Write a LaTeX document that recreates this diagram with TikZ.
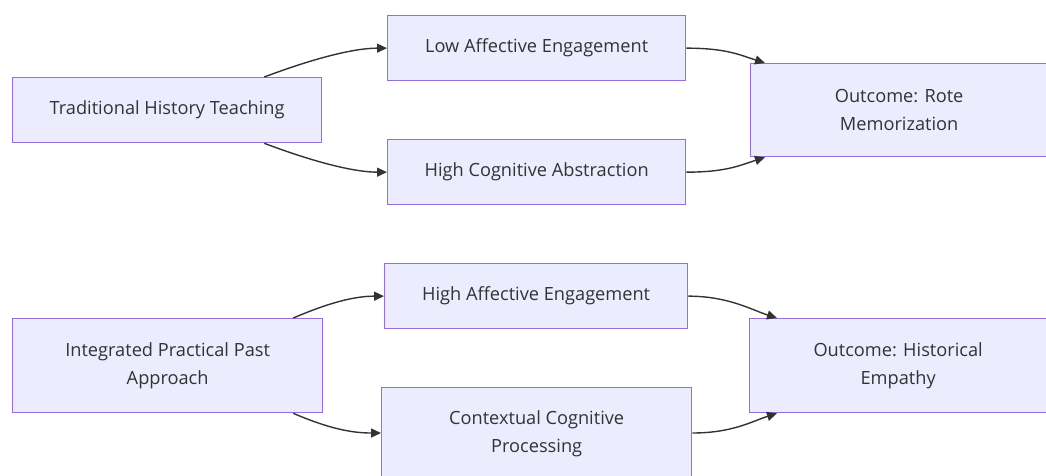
\documentclass[tikz,border=0pt]{standalone}
\usepackage{fontspec}
\setmainfont{Open Sans}
\usetikzlibrary{arrows.meta}
\definecolor{boxfill}{HTML}{ECECFF}
\definecolor{boxline}{HTML}{9370DB}
\definecolor{txt}{HTML}{333333}
\begin{document}
\begin{tikzpicture}[x=1pt,y=-1pt,
  box/.style={draw=boxline,fill=boxfill,line width=1.3pt,text=txt,align=center,
    font=\fontsize{18.2}{28}\selectfont,inner sep=0pt,anchor=north west},
  arr/.style={draw=txt,line width=1.4pt,-{Triangle[length=10pt,width=9pt]}}]
\useasboundingbox (0,0) rectangle (1046,475);
\node[box,minimum width=309pt,minimum height=65pt] (trad) at (12,77) {Traditional History Teaching};
\node[box,minimum width=298pt,minimum height=65pt] (low) at (387,15) {Low Affective Engagement};
\node[box,minimum width=298pt,minimum height=65pt] (hca) at (387,139) {High Cognitive Abstraction};
\node[box,minimum width=297pt,minimum height=93pt] (rote) at (750,63) {Outcome: Rote\\Memorization};
\node[box,minimum width=310pt,minimum height=94pt] (ipp) at (12,318) {Integrated Practical Past\\Approach};
\node[box,minimum width=303pt,minimum height=65pt] (hae) at (384,263) {High Affective Engagement};
\node[box,minimum width=310pt,minimum height=92pt] (ccp) at (381,387) {Contextual Cognitive\\Processing};
\node[box,minimum width=297pt,minimum height=94pt] (hist) at (749,318) {Outcome: Historical\\Empathy};
\coordinate (ccpin) at (ccp.west |- 0,433);
\coordinate (ccpout) at (ccp.east |- 0,433);
% edges
\draw[arr] ([xshift=-58pt]trad.north east) .. controls +(45,-17) and +(-35,0) .. (low.west);
\draw[arr] ([xshift=-58pt]trad.south east) .. controls +(45,17) and +(-35,0) .. (hca.west);
\draw[arr] (low.east) .. controls +(40,0) and +(-25,-8) .. ([xshift=15pt]rote.north west);
\draw[arr] (hca.east) .. controls +(40,0) and +(-25,8) .. ([xshift=15pt]rote.south west);
\draw[arr] ([xshift=-30pt]ipp.north east) .. controls +(35,-15) and +(-30,0) .. (hae.west);
\draw[arr] ([xshift=-30pt]ipp.south east) .. controls +(35,15) and +(-30,0) .. (ccpin);
\draw[arr] (hae.east) .. controls +(40,0) and +(-25,-8) .. ([xshift=28pt]hist.north west);
\draw[arr] (ccpout) .. controls +(40,0) and +(-25,8) .. ([xshift=28pt]hist.south west);
\end{tikzpicture}
\end{document}
